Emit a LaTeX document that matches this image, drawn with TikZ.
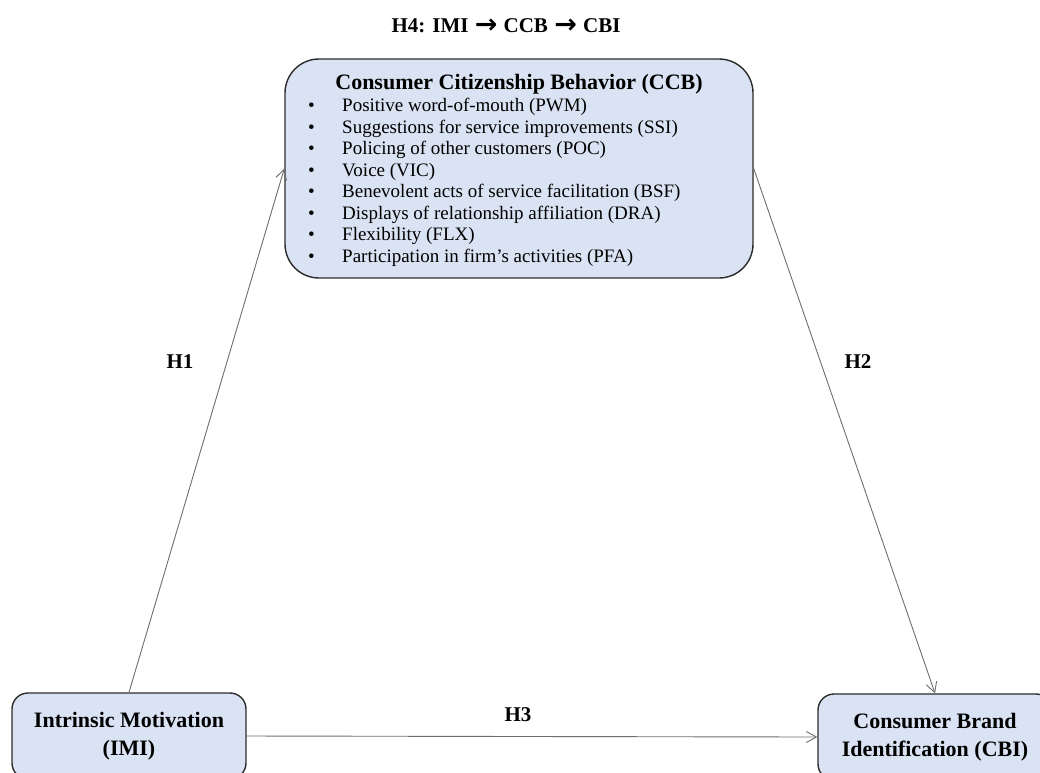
\documentclass[tikz,border=0pt]{standalone}
\usepackage{fontspec}
\setmainfont{Liberation Serif}
\newfontfamily\arrowfont{DejaVu Sans}
\usetikzlibrary{arrows.meta}
\definecolor{boxfill}{HTML}{DAE3F3}
\definecolor{boxline}{HTML}{2B2B2B}
\definecolor{linkgray}{HTML}{6E6E6E}
\tikzset{
  construct/.style={draw=boxline, line width=1.4pt, fill=boxfill, rounded corners=16pt,
    minimum width=234pt, minimum height=86pt, inner sep=0pt, align=center,
    font=\bfseries\fontsize{22}{28}\selectfont},
  hyp/.style={font=\bfseries\fontsize{21}{24}\selectfont, inner sep=0pt},
  link/.style={draw=linkgray, line width=0.9pt, -{Straight Barb[length=10pt,width=11pt]}},
  itemline/.style={font=\fontsize{19}{21.6}\selectfont, inner sep=0pt, anchor=west}
}
\newcommand{\bul}[1]{\makebox[34pt][l]{\textbullet}#1}
\newcommand{\thickarrow}{\hspace{1pt}{\arrowfont\bfseries\fontsize{27}{28}\selectfont\raisebox{-1.5pt}{→}}\hspace{1pt}}
\begin{document}
\begin{tikzpicture}[x=1pt,y=-1pt]
  \useasboundingbox (0,0) rectangle (1040,772);
  \clip (0,0) rectangle (1040,772);

  % mediating construct with its eight dimensions
  \node[construct, rounded corners=34pt, minimum width=468pt, minimum height=219pt] (ccb) at (519,168.5) {};
  \node[font=\bfseries\fontsize{22}{24}\selectfont, inner sep=0pt] (ccbtitle) at (519,84) {Consumer Citizenship Behavior (CCB)};
  \node[itemline] (i1) at (308,107) {\bul{Positive word-of-mouth (PWM)}};
  \node[itemline] (i2) at (308,128.5) {\bul{Suggestions for service improvements (SSI)}};
  \node[itemline] (i3) at (308,150) {\bul{Policing of other customers (POC)}};
  \node[itemline] (i4) at (308,171.5) {\bul{Voice (VIC)}};
  \node[itemline] (i5) at (308,193) {\bul{Benevolent acts of service facilitation (BSF)}};
  \node[itemline] (i6) at (308,214.5) {\bul{Displays of relationship affiliation (DRA)}};
  \node[itemline] (i7) at (308,236) {\bul{Flexibility (FLX)}};
  \node[itemline] (i8) at (308,257.5) {\bul{Participation in firm’s activities (PFA)}};

  % antecedent and outcome
  \node[construct] (imi) at (129,736) {Intrinsic Motivation\\(IMI)};
  \node[construct] (cbi) at (935,737) {Consumer Brand\\Identification (CBI)};

  % hypothesised paths
  \draw[link] (imi.north) -- (ccb.west);
  \draw[link] (ccb.east) -- (cbi.north);
  \draw[link] (imi.east) -- (cbi.west);

  % path labels
  \node[hyp] (h1) at (180,362) {H1};
  \node[hyp] (h2) at (858,362) {H2};
  \node[hyp] (h3) at (518,715) {H3};
  \node[hyp] (h4) at (506,26) {H4: IMI \thickarrow{} CCB \thickarrow{} CBI};
\end{tikzpicture}
\end{document}
